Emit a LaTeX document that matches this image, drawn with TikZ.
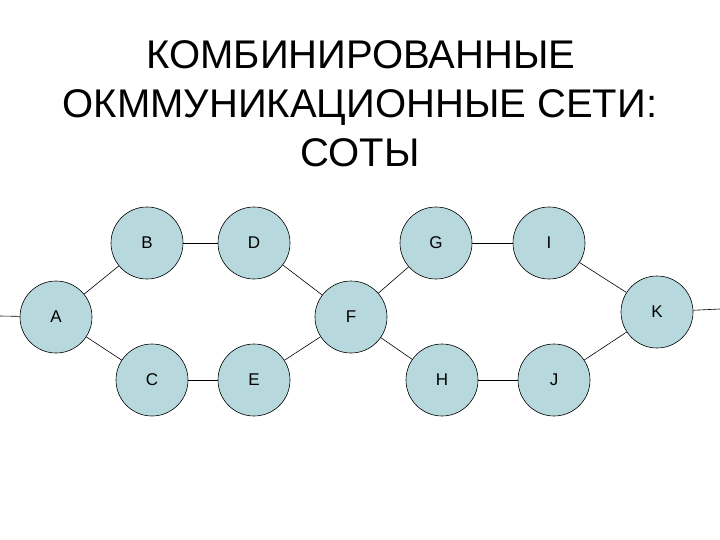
\documentclass[tikz,border=0pt]{standalone}
\usepackage{fontspec}
\setmainfont{Liberation Sans}
\definecolor{cellfill}{RGB}{183,217,222}
\begin{document}
\begin{tikzpicture}[x=1pt,y=-1pt,
  cell/.style={circle,draw=black,line width=0.6pt,fill=cellfill,minimum size=72pt,inner sep=0pt,font=\fontsize{17}{19}\selectfont},
  ttl/.style={anchor=base,inner sep=0pt,font=\fontsize{40}{48}\selectfont},
  link/.style={draw=black,line width=0.6pt}]
\useasboundingbox (0,0) rectangle (720,540);
\node[ttl] (t1) at (361,69) {КОМБИНИРОВАННЫЕ};
\node[ttl] (t2) at (360,118) {ОКММУНИКАЦИОННЫЕ СЕТИ:};
\node[ttl] (t3) at (360,167) {СОТЫ};
\node[cell] (A) at (56,317) {A};
\node[cell] (B) at (147,243) {B};
\node[cell] (C) at (152,380) {C};
\node[cell] (D) at (254,243) {D};
\node[cell] (E) at (254,380) {E};
\node[cell] (F) at (351,317) {F};
\node[cell] (G) at (436,243) {G};
\node[cell] (H) at (442,380) {H};
\node[cell] (I) at (549,243) {I};
\node[cell] (J) at (554,380) {J};
\node[cell] (K) at (657,312) {K};
\coordinate (L) at (0,316);
\coordinate (R) at (720,309);
\draw[link] (L) -- (A);
\draw[link] (A) -- (B);
\draw[link] (A) -- (C);
\draw[link] (B) -- (D);
\draw[link] (C) -- (E);
\draw[link] (D) -- (F);
\draw[link] (E) -- (F);
\draw[link] (F) -- (G);
\draw[link] (F) -- (H);
\draw[link] (G) -- (I);
\draw[link] (H) -- (J);
\draw[link] (I) -- (K);
\draw[link] (J) -- (K);
\draw[link] (K) -- (R);
\end{tikzpicture}
\end{document}
